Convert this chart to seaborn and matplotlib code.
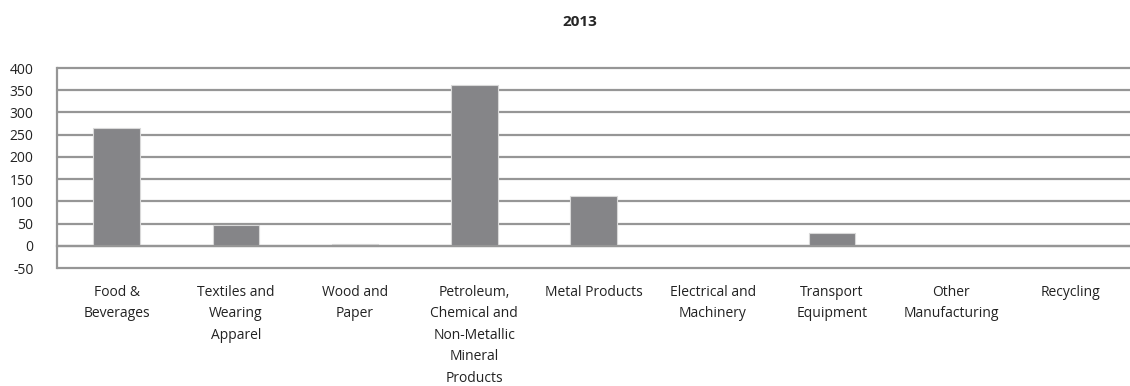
import pandas as pd
import numpy as np
import matplotlib.pyplot as plt
import seaborn as sb

categories = ["Food &\nBeverages", "Textiles and\nWearing\nApparel", "Wood and\nPaper",
              "Petroleum,\nChemical and\nNon-Metallic\nMineral\nProducts", "Metal Products",
              "Electrical and\nMachinery", "Transport\nEquipment", "Other\nManufacturing", "Recycling"]
values = [266, 47, 5, 361, 113, 0, 28, 0, 0]
yticks = [-50, 0, 50, 100, 150, 200, 250, 300, 350, 400]

df = pd.DataFrame({"sector": categories, "value": values})

sb.set_style("white")
plt.rcParams["font.family"] = ["Open Sans", "DejaVu Sans"]

fig = plt.figure(figsize=(11.3, 3.86), dpi=100)
ax = fig.add_axes([57/1130, 118/386, 1 - 57/1130, 200/386])

sb.barplot(data=df, x="sector", y="value", color="#848488", width=0.39,
           edgecolor="#d9d9d9", linewidth=0.8, ax=ax, zorder=3)

ax.set_ylim(-50, 400)
ax.set_xlim(-0.5, 8.5 - 8/120)
ax.set_yticks(yticks)
ax.set_yticklabels([str(v) for v in yticks], fontsize=10, color="#222222")
ax.yaxis.grid(True, color="#969696", linewidth=1.6, zorder=0)
for g in ax.get_ygridlines():
    g.set_clip_on(False)
ax.set_axisbelow(True)
ax.tick_params(axis="y", length=5, width=1.4, color="#969696", pad=12)

# category axis sits at zero, labels hang below the -50 line
for s in ["top", "right"]:
    ax.spines[s].set_visible(False)
ax.spines["left"].set_color("#969696")
ax.spines["left"].set_linewidth(1.6)
ax.spines["bottom"].set_position(("data", 0))
ax.spines["bottom"].set_color("#969696")
ax.spines["bottom"].set_linewidth(1.6)
ax.spines["bottom"].set_zorder(4)

ax.set_xticks(range(len(categories)))
ax.set_xticklabels(categories, fontsize=10, color="#222222", linespacing=1.6, va="top")
ax.set_xticks(np.arange(len(categories)) + 0.5, minor=True)
ax.tick_params(axis="x", which="major", length=0, pad=28)
ax.tick_params(axis="x", which="minor", length=4, width=1.4, color="#969696", direction="out")
ax.set_xlabel("")
ax.set_ylabel("")

fig.text(580/1130, 1 - 22/386, "2013", ha="center", va="center", fontsize=11, fontweight="bold")

plt.savefig("out.png", dpi=100)
